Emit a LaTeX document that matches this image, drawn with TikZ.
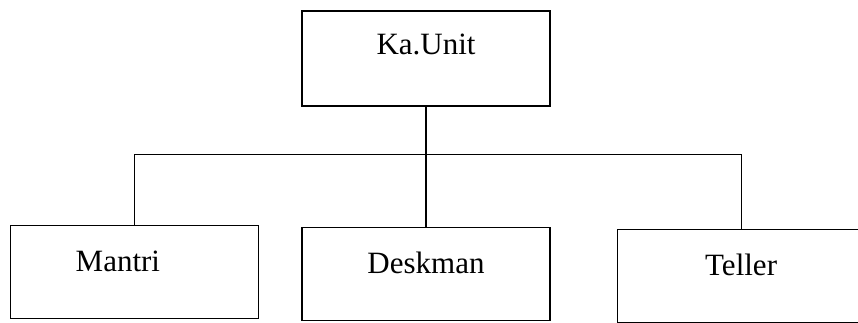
\documentclass[tikz,border=0pt]{standalone}
\usepackage{fontspec}
\setmainfont{Liberation Serif}
\usetikzlibrary{positioning}

\begin{document}
\begin{tikzpicture}[x=1pt, y=-1pt,
block/.style={rectangle, draw=black, line width=1.1pt, inner sep=0pt,
minimum width=248pt, minimum height=93pt, text height=12pt, text depth=12pt,
font=\fontsize{31}{36}\selectfont},
block-top/.style={block, minimum height=95pt, text height=10pt, text depth=17pt},
line/.style={draw, line width=1.1pt}
]
\useasboundingbox (0,0) rectangle (858,323);

\node [block-top] (unit) at (426,58.5) {Ka.Unit};
\node [block, below=120pt of unit] (deskman) {Deskman};
\node [block, left=42pt of deskman, yshift=2pt] (mantri) {Mantri\hspace*{34pt}};
\node [block, right=66pt of deskman, yshift=-2pt] (teller) {Teller};

\path [line] (unit.south) -- ++(0,48) coordinate (bus);
\path [line] (bus) -| (mantri.north);
\path [line] (bus) -| (teller.north);
\path [line] (bus) -- (deskman.north);

\end{tikzpicture}
\end{document}
